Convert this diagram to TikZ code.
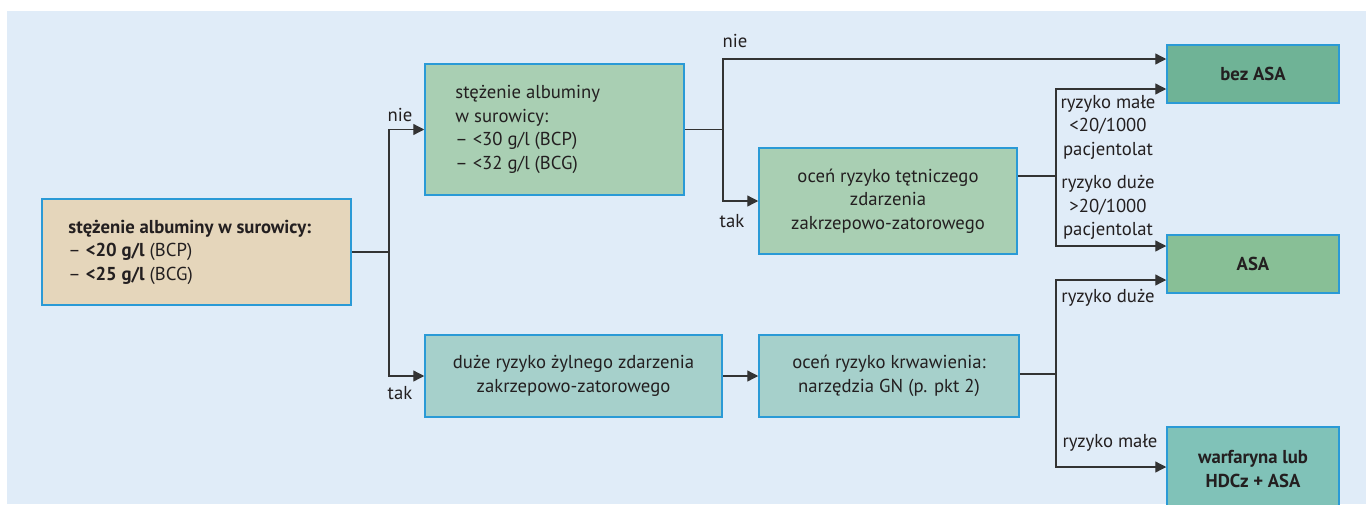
\documentclass[tikz,border=0pt]{standalone}
\usepackage{fontspec}
\setmainfont{PT Sans}
\usetikzlibrary{arrows.meta}
\definecolor{bgblue}{HTML}{E0ECF8}
\definecolor{frame}{HTML}{2A9AD6}
\definecolor{ink}{HTML}{231F20}
\definecolor{wire}{HTML}{333333}
\definecolor{sand}{HTML}{E5D6BB}
\definecolor{sage}{HTML}{A9CFB3}
\definecolor{jade}{HTML}{6FB396}
\definecolor{mint}{HTML}{88BF96}
\definecolor{aqua}{HTML}{A6D0CB}
\definecolor{teal}{HTML}{80C2B8}
\newcommand\boxfont{\fontsize{18.7}{23.5}\selectfont}
\begin{document}
\begin{tikzpicture}[x=1pt,y=-1pt,
  every node/.style={text=ink,font=\boxfont},
  box/.style={draw=frame,line width=1.5pt,inner sep=0pt,align=center},
  strong/.style={font=\boxfont\bfseries},
  lbl/.style={inner sep=0pt,align=center},
  ln/.style={draw=wire,line width=1.3pt},
  arr/.style={ln,-{Triangle[length=11pt,width=11pt]}}]
\useasboundingbox (0,0) rectangle (1366,504);
\clip (0,0) rectangle (1366,504);
\fill[bgblue] (7,11) rectangle (1366,504);

% boxes
\node[box,fill=sand,minimum width=309pt,minimum height=106pt] (b1) at (196.5,252) {};
\node[lbl,anchor=west,align=left] at ([xshift=27pt]b1.west)
  {\textbf{stężenie albuminy w surowicy:}\\– \textbf{<20 g/l} (BCP)\\– \textbf{<25 g/l} (BCG)};

\node[box,fill=sage,minimum width=259pt,minimum height=131pt] (b2) at (554.5,129.5) {};
\node[lbl,anchor=west,align=left] at ([xshift=31pt]b2.west)
  {stężenie albuminy\\w surowicy:\\– <30 g/l (BCP)\\– <32 g/l (BCG)};

\node[box,fill=sage,minimum width=258pt,minimum height=106pt] (b3) at (888,201)
  {oceń ryzyko tętniczego\\zdarzenia\\zakrzepowo-zatorowego};

\node[box,fill=aqua,minimum width=297pt,minimum height=82pt] (ven) at (573.5,376)
  {duże ryzyko żylnego zdarzenia\\zakrzepowo-zatorowego};

\node[box,fill=aqua,minimum width=260pt,minimum height=82pt] (bleed) at (889,376)
  {oceń ryzyko krwawienia:\\narzędzia GN (p. pkt 2)};

\node[box,strong,fill=jade,minimum width=172pt,minimum height=58pt] (noasa) at (1253,74) {bez ASA};
\node[box,strong,fill=mint,minimum width=172pt,minimum height=58pt] (asa) at (1253,264) {ASA};
\node[box,strong,fill=teal,minimum width=172pt,minimum height=84pt] (warf) at (1253,469) {warfaryna lub\\HDCz + ASA};

% junctions
\coordinate (j1) at (389,252);
\coordinate (j2) at (723,129.5);
\coordinate (j3) at (1056,176);
\coordinate (j4) at (1056,374);

% connectors
\draw[ln] (b1.east) -- (j1);
\draw[arr] (j1) |- (b2.west);
\draw[arr] (j1) |- (ven.west);
\draw[ln] (b2.east) -- (j2);
\draw[arr] (j2) |- ([yshift=15pt]noasa.west);
\draw[arr] (j2) |- (b3.west);
\draw[ln] ([yshift=25pt]b3.east) -- (j3);
\draw[arr] (j3) |- ([yshift=-15pt]noasa.west);
\draw[arr] (j3) |- ([yshift=18pt]asa.west);
\draw[arr] (ven.east) -- (bleed.west);
\draw[ln] ([yshift=2pt]bleed.east) -- (j4);
\draw[arr] (j4) |- ([yshift=-16pt]asa.west);
\draw[arr] (j4) |- ([yshift=2pt]warf.west);

% branch labels
\node[lbl] (l1) at (400,115) {nie};
\node[lbl] (l2) at (400,393) {tak};
\node[lbl] (l3) at (735,41) {nie};
\node[lbl] (l4) at (732,221) {tak};
\node[lbl] (l5) at (1108,127) {ryzyko małe\\<20/1000\\pacjentolat};
\node[lbl] (l6) at (1108,207.5) {ryzyko duże\\>20/1000\\pacjentolat};
\node[lbl] (l7) at (1108,298) {ryzyko duże};
\node[lbl] (l8) at (1110,443) {ryzyko małe};
\end{tikzpicture}
\end{document}
